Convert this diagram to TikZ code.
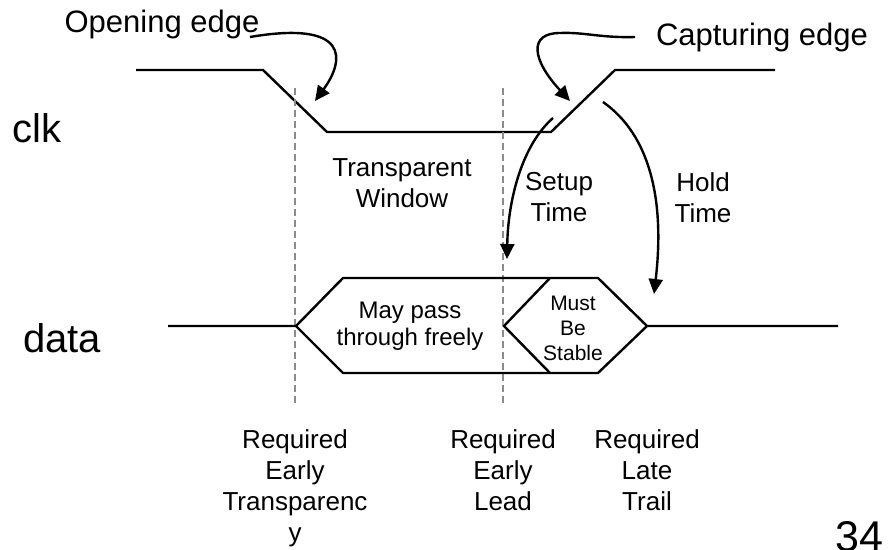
\documentclass[tikz,border=0pt]{standalone}
\usepackage{fontspec}
\setmainfont{Liberation Sans}
\usetikzlibrary{arrows.meta}

\tikzset{
  wave/.style={line width=2.4pt},
  guide/.style={line width=1.6pt, draw=black!45, dash pattern=on 7pt off 4pt},
  pointer/.style={line width=2.4pt, -{Triangle[length=15pt,width=14pt]}},
  bigtxt/.style={inner sep=0pt, font=\fontsize{40}{48}\selectfont},
  labtxt/.style={inner sep=0pt, font=\fontsize{31}{37}\selectfont},
  midtxt/.style={inner sep=0pt, align=center, font=\fontsize{26}{31}\selectfont},
  boxtxt/.style={inner sep=0pt, align=center, font=\fontsize{24}{27}\selectfont},
  smalltxt/.style={inner sep=0pt, align=center, font=\fontsize{21}{25}\selectfont},
}

\begin{document}
\begin{tikzpicture}[x=1pt, y=-1pt]
\useasboundingbox (0,0) rectangle (893,549);

% signal names
\node[bigtxt, anchor=base] (clk) at (37,142) {clk};
\node[bigtxt, anchor=base] (data) at (62,352) {data};

% clock waveform
\draw[wave] (136,70) -- (263,70) -- (327,132) -- (551,132) -- (615,70) -- (775,70);

% reference lines through the two timing points
\draw[guide] (295,88) -- (295,405);
\draw[guide] (503,88) -- (503,405);

% data waveform
\draw[wave] (168,326) -- (296,326) -- (343,278) -- (598,278) -- (647,326) -- (838,326);
\draw[wave] (296,326) -- (343,373) -- (598,373) -- (647,326);
\draw[wave] (550,278) -- (504,326) -- (550,373);

% texts inside the data window
\node[boxtxt] (free) at (410,326) {May pass\\through freely};
\node[smalltxt] (stable) at (573,328) {Must\\Be\\Stable};

% edge callouts
\node[labtxt, anchor=base] (open) at (162,32) {Opening edge};
\node[labtxt, anchor=base] (capt) at (762,45) {Capturing edge};
\coordinate (openS) at (250,37);
\coordinate (openE) at (315,101);
\coordinate (captS) at (635,37);
\coordinate (captE) at (570,101);
\draw[pointer] (openS) .. controls (350,20) and (345,60) .. (openE);
\draw[pointer] (captS) .. controls (600,38) and (585,32) .. (560,33)
                      .. controls (528,33) and (532,60) .. (captE);

% window, setup and hold labels
\node[midtxt] (win) at (402,183) {Transparent\\Window};
\node[midtxt] (setup) at (559,197) {Setup\\Time};
\node[midtxt] (hold) at (703,198) {Hold\\Time};

\coordinate (setupS) at (553,118);
\coordinate (setupE) at (507,259);
\coordinate (holdS) at (603,102);
\coordinate (holdE) at (654,294);
\draw[pointer] (setupS) .. controls (522,145) and (508,200) .. (setupE);
\draw[pointer] (holdS) .. controls (650,135) and (665,200) .. (holdE);

% requirement labels
\node[midtxt] (reqT) at (295,488) {Required\\Early\\Transparenc\\y};
\node[midtxt] (reqL) at (503,470) {Required\\Early\\Lead};
\node[midtxt] (reqR) at (647,470) {Required\\Late\\Trail};

% page number, running off the lower edge of the page
\node[bigtxt, anchor=base, font=\fontsize{43}{50}\selectfont] (page) at (859,551) {34};
\end{tikzpicture}
\end{document}
